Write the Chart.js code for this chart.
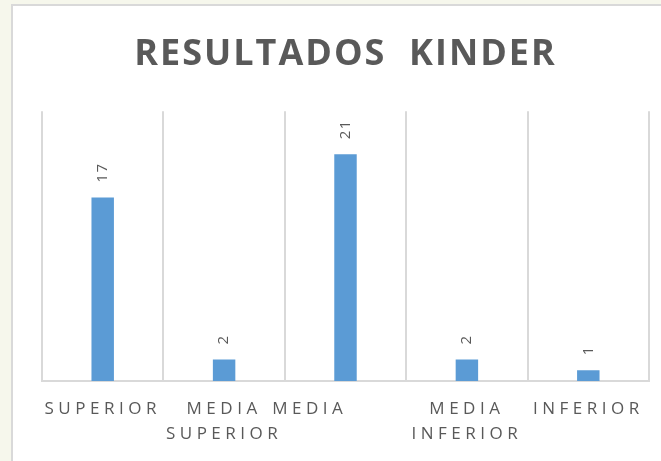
<!DOCTYPE html>
<html>
<head>
<meta charset="utf-8">
<script src="https://cdn.jsdelivr.net/npm/chart.js@4/dist/chart.umd.min.js"></script>
<style>
  html, body { margin: 0; padding: 0; }
  body { width: 661px; height: 461px; background: #f6f7ec; position: relative; overflow: hidden; }
  #panel { position: absolute; left: 11px; top: 4px; width: 700px; height: 500px; background: #ffffff;
           border-left: 2px solid #d9d9d9; border-top: 2px solid #d9d9d9; }
  #chart { position: absolute; left: 0; top: 0; }
</style>
</head>
<body>
<div id="panel"></div>
<canvas id="chart" width="661" height="461"></canvas>
<script>
// ---- data ----
const categories = [
  'SUPERIOR',
  ['MEDIA', 'SUPERIOR'],
  'MEDIA\u00a0\u00a0\u00a0\u00a0\u00a0\u00a0\u00a0\u00a0',
  ['MEDIA', 'INFERIOR'],
  'INFERIOR'
];
const resultados = [17, 2, 21, 2, 1];

const GRAY = '#595959';
const FONT = '"Open Sans", "Noto Sans", sans-serif';

// letter spacing for tick labels + title
const spacingPlugin = {
  id: 'spacing',
  beforeUpdate(chart) { chart.ctx.letterSpacing = '4.5px'; },
  beforeDraw(chart) { chart.ctx.letterSpacing = '4.5px'; },
  afterLayout(chart) {
    const tb = chart.titleBlock;
    if (tb && !tb._wrapped) {
      const orig = tb.draw.bind(tb);
      tb.draw = function () {
        const ctx = chart.ctx;
        ctx.save();
        ctx.letterSpacing = '2px';
        orig();
        ctx.restore();
      };
      tb._wrapped = true;
    }
  }
};

// rotated value labels above each bar
const valueLabels = {
  id: 'valueLabels',
  afterDatasetsDraw(chart) {
    const ctx = chart.ctx;
    const meta = chart.getDatasetMeta(0);
    ctx.save();
    ctx.letterSpacing = '1.5px';
    ctx.font = '15px ' + FONT;
    ctx.fillStyle = GRAY;
    ctx.textAlign = 'left';
    ctx.textBaseline = 'middle';
    meta.data.forEach((bar, i) => {
      ctx.save();
      ctx.translate(bar.x, bar.y - 15);
      ctx.rotate(-Math.PI / 2);
      ctx.fillText(String(resultados[i]), 0, 0);
      ctx.restore();
    });
    ctx.restore();
  }
};

new Chart(document.getElementById('chart'), {
  type: 'bar',
  data: {
    labels: categories,
    datasets: [{
      data: resultados,
      backgroundColor: '#5b9bd5',
      borderWidth: 0,
      categoryPercentage: 1,
      barPercentage: 0.185
    }]
  },
  options: {
    responsive: false,
    animation: false,
    layout: { padding: { left: 42, right: 12, top: 0, bottom: 0 } },
    plugins: {
      legend: { display: false },
      tooltip: { enabled: false },
      title: {
        display: true,
        text: 'RESULTADOS  KINDER',
        color: GRAY,
        font: { family: FONT, size: 36, weight: 'bold', lineHeight: 1.2 },
        padding: { top: 33, bottom: 35 }
      }
    },
    scales: {
      x: {
        grid: { color: '#d9d9d9', lineWidth: 2, drawTicks: false, offset: true },
        border: { color: '#d9d9d9', width: 2 },
        ticks: {
          color: GRAY,
          padding: 15,
          maxRotation: 0,
          autoSkip: false,
          font: { family: FONT, size: 17, lineHeight: 1.5 }
        },
        afterFit(scale) { scale.height = 80; }
      },
      y: { display: false, min: 0, max: 25 }
    }
  },
  plugins: [spacingPlugin, valueLabels]
});
</script>
</body>
</html>
